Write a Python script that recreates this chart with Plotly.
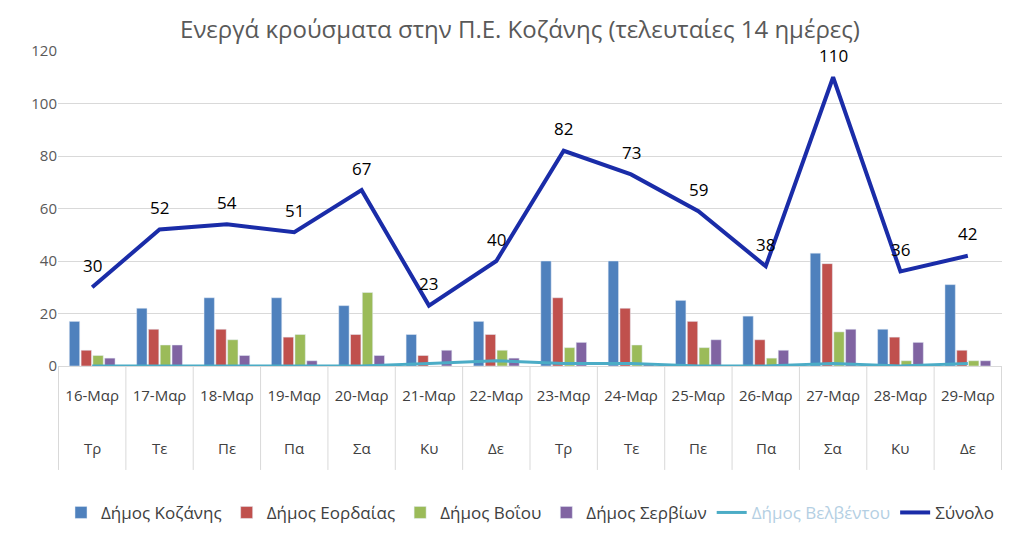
import plotly.graph_objects as go

dates = ["16-Μαρ", "17-Μαρ", "18-Μαρ", "19-Μαρ", "20-Μαρ", "21-Μαρ", "22-Μαρ",
         "23-Μαρ", "24-Μαρ", "25-Μαρ", "26-Μαρ", "27-Μαρ", "28-Μαρ", "29-Μαρ"]
days = ["Τρ", "Τε", "Πε", "Πα", "Σα", "Κυ", "Δε",
        "Τρ", "Τε", "Πε", "Πα", "Σα", "Κυ", "Δε"]

kozani = [17, 22, 26, 26, 23, 12, 17, 40, 40, 25, 19, 43, 14, 31]
eordaia = [6, 14, 14, 11, 12, 4, 12, 26, 22, 17, 10, 39, 11, 6]
voio = [4, 8, 10, 12, 28, 0, 6, 7, 8, 7, 3, 13, 2, 2]
servia = [3, 8, 4, 2, 4, 6, 3, 9, 1, 10, 6, 14, 9, 2]
velventos = [0, 0, 0, 0, 0, 1, 2, 1, 1, 0, 0, 1, 0, 1]
total = [30, 52, 54, 51, 67, 23, 40, 82, 73, 59, 38, 110, 36, 42]

FONT = "Open Sans, sans-serif"
GRID = "#d9d9d9"

fig = go.Figure()

bars = [("Δήμος Κοζάνης", kozani, "#4f81bd"),
        ("Δήμος Εορδαίας", eordaia, "#c0504d"),
        ("Δήμος Βοΐου", voio, "#9bbb59"),
        ("Δήμος Σερβίων", servia, "#8064a2")]
for name, vals, col in bars:
    fig.add_trace(go.Bar(x=dates, y=vals, name=name, marker_color=col))

fig.add_trace(go.Scatter(
    x=dates, y=velventos, mode="lines",
    name='<span style="color:#b4cfe3">Δήμος Βελβέντου</span>',
    line=dict(color="#4bacc6", width=3)))

fig.add_trace(go.Scatter(
    x=dates, y=total, mode="lines", name="Σύνολο",
    line=dict(color="#1a2ca8", width=4)))

# data labels above the total line
for d, v in zip(dates, total):
    fig.add_annotation(x=d, y=v, xref="x", yref="y", text=str(v),
                       showarrow=False, yshift=22,
                       font=dict(size=17, color="#000000"))

# day-of-week row and category dividers below the axis
for i, d in enumerate(days):
    fig.add_annotation(x=dates[i], y=-0.26, xref="x", yref="paper",
                       yanchor="middle", text=d, showarrow=False,
                       font=dict(size=15, color="#404040"))
for i in range(len(dates) + 1):
    fig.add_shape(type="line", xref="x", yref="paper",
                  x0=i - 0.5, x1=i - 0.5, y0=0, y1=-0.33,
                  line=dict(color=GRID, width=1))

# page shows the figure offset by 8px, margins compensate
fig.update_layout(
    width=1024, height=540,
    margin=dict(l=50, r=30, t=43, b=182, autoexpand=False),
    paper_bgcolor="white", plot_bgcolor="white",
    font=dict(family=FONT, size=15, color="#404040"),
    title=dict(text="Ενεργά κρούσματα στην Π.Ε. Κοζάνης (τελευταίες 14 ημέρες)",
               x=0.5, xanchor="center", y=0.96, yanchor="middle",
               font=dict(size=24, color="#595959")),
    barmode="group", bargap=0.3, bargroupgap=0.12,
    legend=dict(orientation="h", x=0.5, xanchor="center",
                yref="container", y=0.065, yanchor="middle",
                font=dict(size=17, color="#404040"),
                traceorder="normal"),
    showlegend=True,
)
fig.update_xaxes(type="category", showgrid=False, showline=True,
                 linecolor=GRID, ticks="", ticklabelstandoff=16,
                 automargin=False,
                 tickfont=dict(size=15, color="#404040"))
fig.update_yaxes(range=[0, 120], dtick=20, showgrid=True, gridcolor=GRID,
                 zeroline=False, showline=False, ticks="", automargin=False,
                 tickfont=dict(size=15, color="#595959"))

fig.write_html("out.html")
